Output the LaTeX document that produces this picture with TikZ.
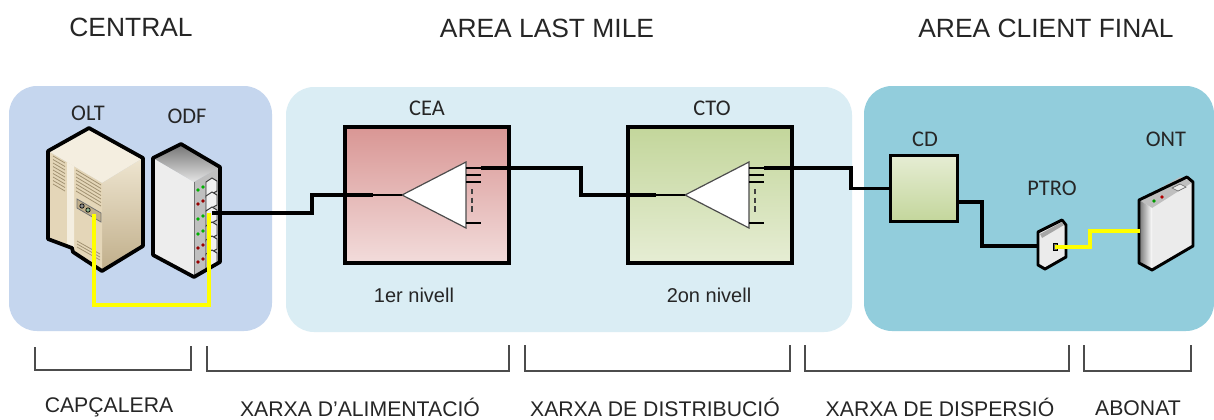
\documentclass[tikz,border=0pt]{standalone}
\usepackage{fontspec}
\setmainfont{Liberation Sans}
\newfontfamily\calibrifont{Carlito}
\definecolor{panelblue}{HTML}{C5D6EE}
\definecolor{panelpale}{HTML}{DAEDF4}
\definecolor{panelteal}{HTML}{92CDDC}
\definecolor{fibreyellow}{HTML}{FFFF00}
\definecolor{rosetop}{HTML}{D99694}
\definecolor{rosebottom}{HTML}{F2DCDB}
\definecolor{leaftop}{HTML}{C3D69B}
\definecolor{leafbottom}{HTML}{E6EDD4}
\definecolor{creamtop}{HTML}{F4EEE0}
\definecolor{creamside}{HTML}{E4D6B8}
\definecolor{creamlight}{HTML}{EEE5D0}
\definecolor{creamdark}{HTML}{C0AE8A}
\definecolor{creamline}{HTML}{A29272}
\tikzset{
	heading/.style={font=\fontsize{19.8}{22}\selectfont, text=black!85, inner sep=0pt},
	netname/.style={font=\fontsize{15.9}{18}\selectfont, text=black!85, inner sep=0pt},
	levelname/.style={font=\fontsize{15}{17}\selectfont, text=black!85, inner sep=0pt},
	devname/.style={font=\calibrifont\fontsize{16.8}{18}\selectfont, text=black!85, inner sep=0pt},
	redbox/.style={draw=black, line width=2.4pt, top color=rosetop, bottom color=rosebottom, inner sep=0pt, minimum width=123pt, minimum height=102pt},
	greenbox/.style={draw=black, line width=2.4pt, top color=leaftop, bottom color=leafbottom, inner sep=0pt, minimum width=123pt, minimum height=102pt},
	fibre/.style={line width=2.6pt, draw=black},
	dropfibre/.style={line width=2.6pt, draw=fibreyellow},
	outline/.style={draw=black, line width=2.8pt, line join=round},
	bracket/.style={draw=black!70, line width=0.8pt}
}
% splitter triangle with its fan of outputs, #1 is the tip and #2 the name prefix
\def\splitter(#1)(#2){
	\begin{scope}[shift={(#1)}]
		\draw[fill=white, draw=black!70, line width=0.9pt] (0,0) -- (64,-33) -- (64,33) -- cycle;
		\draw[line width=0.8pt] (64,-27) -- (79,-27);
		\draw[line width=0.8pt] (64,-20) -- (79,-20);
		\draw[line width=0.8pt] (64,-13) -- (79,-13);
		\draw[line width=0.8pt] (64,28) -- (79,28);
		\draw[line width=0.8pt, black!75, dash pattern=on 4pt off 2.5pt] (70,-6) -- (70,18);
		\coordinate (#2in) at (-29,0);
		\coordinate (#2out) at (79,-27);
		\draw[line width=0.8pt] (#2in) -- (0,0);
	\end{scope}
}
\begin{document}
\begin{tikzpicture}[x=0.75pt, y=-0.75pt]
	\useasboundingbox (0,0) rectangle (1214,419);
	\fill[white] (0,0) rectangle (1214,419);

	%%%%% panels %%%%%
	\fill[panelblue, rounded corners=21pt] (9,86) rectangle (272,331);
	\fill[panelpale, rounded corners=21pt] (286,87) rectangle (852,332);
	\fill[panelteal, rounded corners=21pt] (864,86) rectangle (1214,331);

	%%%%% OLT %%%%%
	\fill[creamtop] (48,151) -- (89,128) -- (143,158) -- (102,183) -- cycle;
	\shade[top color=creamlight, bottom color=creamdark] (102,183) -- (143,158) -- (143,246) -- (102,271) -- cycle;
	\fill[creamside] (48,151) -- (102,183) -- (102,271) -- (73,252) -- (72,248) -- (48,239) -- cycle;
	\fill[creamtop] (67,162) -- (74,166) -- (74,252) -- (67,246) -- cycle;
	\foreach \yy in {0,3.5,...,28} {
		\draw[creamline, line width=0.6pt] (53,156+\yy) -- (65,163+\yy);
	}
	\foreach \yy in {0,3.5,...,21} {
		\draw[creamline, line width=0.6pt] (76,170+\yy) -- (101,185+\yy);
	}
	\draw[fill=creamdark, draw=black!55, line width=0.6pt] (77,199) -- (101,213) -- (101,222) -- (77,208) -- cycle;
	\draw[fill=black!45, draw=black, line width=0.5pt] (82,206) circle (2.2);
	\draw[fill=green!35!black!45, draw=black, line width=0.5pt] (88,210) circle (2.2);
	\foreach \yy in {0,3,6} {
		\draw[creamline, line width=0.6pt] (77,241+\yy) -- (100,254+\yy);
	}
	\draw[outline] (48,151) -- (89,128) -- (143,158) -- (143,246) -- (102,271) -- (73,252) -- (72,248) -- (48,239) -- cycle;

	%%%%% ODF %%%%%
	\fill[black!7] (153,158) -- (194,182) -- (194,277) -- (153,255) -- cycle;
	\shade[top color=black!55, bottom color=black!10] (153,158) -- (181,144) -- (220,167) -- (194,182) -- cycle;
	\fill[black!25] (194,182) -- (220,167) -- (220,262) -- (194,277) -- cycle;
	\draw[black!55, line width=0.5pt] (194,182) -- (194,277);
	\foreach \yy/\ledcol in {0/green!70!black, 14/red!60!black, 29/green!70!black, 44/green!70!black, 58/red!60!black, 72/red!60!black} {
		\fill[\ledcol] (198,190+\yy) circle (1.9);
		\fill[\ledcol] (203,187+\yy) circle (1.9);
		\draw[fill=black!6, draw=black!80, line width=0.7pt] (206,182+\yy) -- (212,178+\yy) -- (217,181+\yy) -- (217,191+\yy) -- (206,197+\yy) -- cycle;
	}
	\draw[outline] (153,158) -- (181,144) -- (220,167) -- (220,262) -- (194,277) -- (153,255) -- cycle;

	%%%%% boxes %%%%%
	\node[redbox] (cea) at (427,195) {};
	\node[greenbox] (cto) at (710,195) {};
	\node[greenbox, top color=leafbottom, bottom color=leaftop, minimum width=50pt, minimum height=50pt] (cd) at (924,188.5) {};

	\splitter(402,195)(cea)
	\splitter(685,195)(cto)

	%%%%% PTRO %%%%%
	\draw[outline, fill=black!8, line width=2.2pt] (1038,232) -- (1062,220) -- (1066,225) -- (1066,257) -- (1045,269) -- (1038,265) -- cycle;
	\fill[black!35] (1040,234) -- (1062,222) -- (1064,225) -- (1042,238) -- cycle;
	\draw[fill=black!60, draw=black, line width=0.5pt] (1053,243) rectangle (1057,250);

	%%%%% ONT %%%%%
	\fill[black!8] (1139,200) -- (1187,177) -- (1193,182) -- (1193,246) -- (1152,270) -- (1139,263) -- cycle;
	\fill[black!25] (1139,200) -- (1180,177) -- (1193,182) -- (1152,208) -- cycle;
	\shade[left color=black!55, right color=white] (1139,200) -- (1152,208) -- (1152,270) -- (1139,263) -- cycle;
	\draw[fill=black!8, draw=black!60, line width=0.5pt] (1172,188) -- (1180,184) -- (1186,187) -- (1178,191) -- cycle;
	\fill[green!60!black] (1154,201) circle (1.8);
	\fill[red!70!black] (1162,197) circle (1.8);
	\draw[outline, line width=2.2pt] (1139,200) -- (1187,177) -- (1193,182) -- (1193,246) -- (1152,270) -- (1139,263) -- cycle;

	%%%%% fibre runs %%%%%
	\coordinate (oltport) at (94,214);
	\coordinate (odfport) at (209,213);
	\coordinate (odfout) at (212,213);
	\coordinate (ptroin) at (1038,246);
	\coordinate (ptroout) at (1055,247);
	\coordinate (ontin) at (1140,231);
	\coordinate (cdout) at (958,202);

	\draw[dropfibre] (oltport) |- (209,305) -- (odfport);
	\draw[fibre] (odfout) -- (312,213) |- (ceain);
	\draw[fibre] (ceaout) -- (581,168) |- (ctoin);
	\draw[fibre] (ctoout) -- (851,168) |- (cd.west);
	\draw[fibre] (cdout) -- (982,202) |- (ptroin);
	\draw[dropfibre] (ptroout) -- (1090,247) |- (ontin);

	%%%%% brackets %%%%%
	\draw[bracket] (35,347) -- (35,370) -- (191,370) -- (191,346);
	\draw[bracket] (207,346) -- (207,371) -- (509,371) -- (509,345);
	\draw[bracket] (525,345) -- (525,371) -- (790,371) -- (790,345);
	\draw[bracket] (805,345) -- (805,371) -- (1069,371) -- (1069,345);
	\draw[bracket] (1084,345) -- (1084,371) -- (1191,371) -- (1191,345);

	%%%%% labels %%%%%
	\node[heading] (central) at (131,27) {CENTRAL};
	\node[heading] (lastmile) at (547,28) {AREA LAST MILE};
	\node[heading] (client) at (1046,28) {AREA CLIENT FINAL};

	\node[devname] (oltname) at (88,113) {OLT};
	\node[devname] (odfname) at (187,116) {ODF};
	\node[devname] (ceaname) at (427,108) {CEA};
	\node[devname] (ctoname) at (712,108) {CTO};
	\node[devname] (cdname) at (925,139) {CD};
	\node[devname] (ptroname) at (1052,188) {PTRO};
	\node[devname] (ontname) at (1166,139) {ONT};

	\node[levelname] (firstlevel) at (414,295) {1er nivell};
	\node[levelname] (secondlevel) at (709,295) {2on nivell};

	\node[netname] (headend) at (109,407) {CAPÇALERA};
	\node[netname] (feeder) at (360,407) {XARXA D’ALIMENTACIÓ};
	\node[netname] (distrib) at (655,407) {XARXA DE DISTRIBUCIÓ};
	\node[netname] (dispersal) at (940,407) {XARXA DE DISPERSIÓ};
	\node[netname] (subscriber) at (1138,408) {ABONAT};
\end{tikzpicture}
\end{document}
